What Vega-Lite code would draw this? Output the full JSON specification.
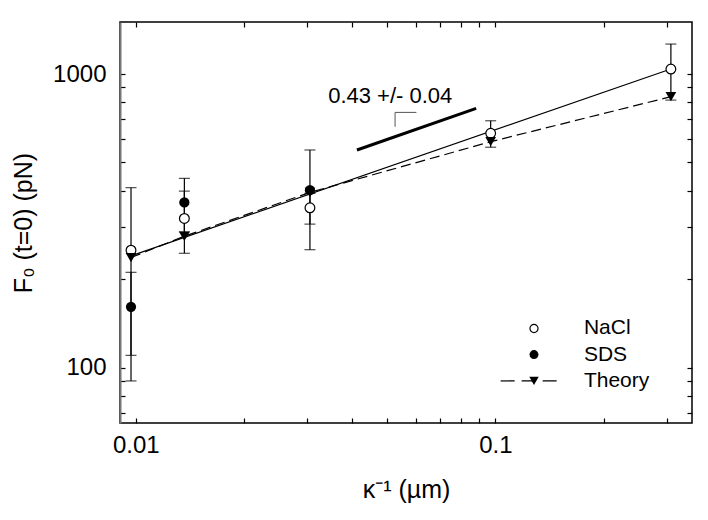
{
  "$schema": "https://vega.github.io/schema/vega-lite/v6.json",
  "width": 572,
  "height": 401,
  "autosize": {"type": "none"},
  "padding": {"left": 120, "top": 22, "right": 16, "bottom": 97},
  "background": "white",
  "config": {
    "view": {"stroke": "black", "strokeWidth": 1.5},
    "font": "Liberation Sans"
  },
  "datasets": {
    "obs": [
      {"k": 0.0097, "F": 251, "lo": 90, "hi": 410, "series": "NaCl"},
      {"k": 0.01365, "F": 322, "lo": 245, "hi": 399, "series": "NaCl"},
      {"k": 0.0305, "F": 350, "lo": 308, "hi": 392, "series": "NaCl"},
      {"k": 0.097, "F": 628, "lo": 563, "hi": 693, "series": "NaCl"},
      {"k": 0.3075, "F": 1040, "lo": 815, "hi": 1265, "series": "NaCl"},
      {"k": 0.0097, "F": 161, "lo": 110, "hi": 211, "series": "SDS"},
      {"k": 0.01365, "F": 365, "lo": 290, "hi": 441, "series": "SDS"},
      {"k": 0.0305, "F": 402, "lo": 252, "hi": 551, "series": "SDS"}
    ],
    "theory": [
      {"k": 0.0097, "F": 237},
      {"k": 0.01365, "F": 280},
      {"k": 0.0305, "F": 395},
      {"k": 0.097, "F": 588},
      {"k": 0.3075, "F": 837}
    ],
    "fit": [
      {"k": 0.0097, "F": 240},
      {"k": 0.3075, "F": 1040}
    ],
    "slope": [
      {"k": 0.0412, "F": 551},
      {"k": 0.0884, "F": 764}
    ],
    "bracket": [
      {"k": 0.0526, "F": 661, "o": 1},
      {"k": 0.0526, "F": 740, "o": 2},
      {"k": 0.0603, "F": 740, "o": 3}
    ],
    "note": [
      {"k": 0.051, "F": 796, "label": "0.43 +/- 0.04"}
    ],
    "legend": [
      {"k": 0.128, "F": 135.8, "label": "NaCl", "sym": "open"},
      {"k": 0.128, "F": 110.7, "label": "SDS", "sym": "filled"},
      {"k": 0.128, "F": 90, "label": "Theory", "sym": "triangle"}
    ],
    "legend_dash": [
      {"k": 0.1034, "F": 90},
      {"k": 0.1515, "F": 90}
    ]
  },
  "encoding": {
    "x": {
      "field": "k",
      "type": "quantitative",
      "scale": {"type": "log", "domain": [0.00904, 0.352], "nice": false},
      "axis": null
    },
    "y": {
      "field": "F",
      "type": "quantitative",
      "scale": {"type": "log", "domain": [64.7, 1504], "nice": false},
      "axis": null
    }
  },
  "resolve": {"axis": {"x": "independent", "y": "independent"}},
  "layer": [
    {
      "data": {"name": "fit"},
      "mark": {"type": "line", "color": "black", "strokeWidth": 1.2},
      "encoding": {
        "x": {
          "field": "k",
          "type": "quantitative",
          "axis": {
            "orient": "bottom",
            "values": [0.01, 0.02, 0.03, 0.04, 0.05, 0.06, 0.07, 0.08, 0.09, 0.1, 0.2, 0.3],
            "labelExpr": "datum.value == 0.01 ? '0.01' : datum.value == 0.1 ? '0.1' : ''",
            "tickSize": -5,
            "tickColor": "black",
            "tickWidth": 1.2,
            "domain": false,
            "grid": false,
            "labelFont": "Liberation Sans",
            "labelFontSize": 24,
            "labelColor": "black",
            "labelPadding": 15,
            "labelFlush": false,
            "title": "κ⁻¹ (µm)",
            "titleFont": "Liberation Sans",
            "titleFontSize": 25,
            "titleFontWeight": "normal",
            "titleColor": "black",
            "titlePadding": 20
          }
        },
        "y": {
          "field": "F",
          "type": "quantitative",
          "axis": {
            "orient": "left",
            "values": [70, 80, 90, 100, 200, 300, 400, 500, 600, 700, 800, 900, 1000],
            "labelExpr": "datum.value == 100 ? '100' : datum.value == 1000 ? '1000' : ''",
            "tickSize": -5,
            "tickColor": "black",
            "tickWidth": 1.2,
            "domain": true,
            "domainColor": "#777777",
            "domainWidth": 2,
            "grid": false,
            "labelFont": "Liberation Sans",
            "labelFontSize": 24,
            "labelColor": "black",
            "labelPadding": 19,
            "labelFlush": false,
            "title": "F₀ (t=0) (pN)",
            "titleFont": "Liberation Sans",
            "titleFontSize": 25,
            "titleFontWeight": "normal",
            "titleColor": "black",
            "titlePadding": 16
          }
        }
      }
    },
    {
      "data": {"name": "theory"},
      "mark": {"type": "line", "color": "black", "strokeWidth": 1.2, "strokeDash": [10, 5]},
      "encoding": {
        "x": {
          "field": "k",
          "type": "quantitative",
          "axis": {
            "orient": "top",
            "values": [0.01, 0.02, 0.03, 0.04, 0.05, 0.06, 0.07, 0.08, 0.09, 0.1, 0.2, 0.3],
            "labels": false,
            "tickSize": -5,
            "tickColor": "black",
            "tickWidth": 1.2,
            "domain": false,
            "grid": false,
            "title": null
          }
        },
        "y": {
          "field": "F",
          "type": "quantitative",
          "axis": {
            "orient": "right",
            "values": [70, 80, 90, 100, 200, 300, 400, 500, 600, 700, 800, 900, 1000],
            "labels": false,
            "tickSize": -5,
            "tickColor": "black",
            "tickWidth": 1.2,
            "domain": false,
            "grid": false,
            "title": null
          }
        }
      }
    },
    {
      "data": {"name": "slope"},
      "mark": {"type": "line", "color": "black", "strokeWidth": 3},
      "encoding": {}
    },
    {
      "data": {"name": "bracket"},
      "mark": {"type": "line", "color": "#555555", "strokeWidth": 1},
      "encoding": {"order": {"field": "o", "type": "quantitative"}}
    },
    {
      "data": {"name": "note"},
      "mark": {"type": "text", "align": "center", "baseline": "alphabetic", "fontSize": 22, "font": "Liberation Sans", "color": "black"},
      "encoding": {"text": {"field": "label", "type": "nominal"}}
    },
    {
      "data": {"name": "obs"},
      "mark": {"type": "rule", "color": "black", "strokeWidth": 1.2},
      "encoding": {
        "y": {"field": "lo", "type": "quantitative"},
        "y2": {"field": "hi"}
      }
    },
    {
      "data": {"name": "obs"},
      "transform": [{"fold": ["lo", "hi"], "as": ["end", "val"]}],
      "mark": {"type": "tick", "orient": "horizontal", "size": 11, "thickness": 1.2, "color": "black"},
      "encoding": {
        "y": {"field": "val", "type": "quantitative"}
      }
    },
    {
      "data": {"name": "obs"},
      "transform": [{"filter": "datum.series == 'NaCl'"}],
      "mark": {"type": "point", "shape": "circle", "size": 95, "filled": true, "fill": "white", "stroke": "black", "strokeWidth": 1.2, "opacity": 1},
      "encoding": {}
    },
    {
      "data": {"name": "obs"},
      "transform": [{"filter": "datum.series == 'SDS'"}],
      "mark": {"type": "point", "shape": "circle", "size": 105, "filled": true, "color": "black", "opacity": 1},
      "encoding": {}
    },
    {
      "data": {"name": "theory"},
      "mark": {"type": "point", "shape": "triangle-down", "size": 115, "filled": true, "color": "black", "opacity": 1},
      "encoding": {}
    },
    {
      "data": {"name": "legend_dash"},
      "mark": {"type": "line", "color": "black", "strokeWidth": 1.2, "strokeDash": [14, 7]},
      "encoding": {}
    },
    {
      "data": {"name": "legend"},
      "transform": [{"filter": "datum.sym == 'open'"}],
      "mark": {"type": "point", "shape": "circle", "size": 65, "filled": true, "fill": "white", "stroke": "black", "strokeWidth": 1.2, "opacity": 1},
      "encoding": {}
    },
    {
      "data": {"name": "legend"},
      "transform": [{"filter": "datum.sym == 'filled'"}],
      "mark": {"type": "point", "shape": "circle", "size": 80, "filled": true, "color": "black", "opacity": 1},
      "encoding": {}
    },
    {
      "data": {"name": "legend"},
      "transform": [{"filter": "datum.sym == 'triangle'"}],
      "mark": {"type": "point", "shape": "triangle-down", "size": 90, "filled": true, "color": "black", "opacity": 1},
      "encoding": {}
    },
    {
      "data": {"name": "legend"},
      "mark": {"type": "text", "align": "left", "baseline": "middle", "fontSize": 21, "font": "Liberation Sans", "color": "black"},
      "encoding": {
        "x": {"datum": 0.1762, "type": "quantitative"},
        "text": {"field": "label", "type": "nominal"}
      }
    }
  ]
}
